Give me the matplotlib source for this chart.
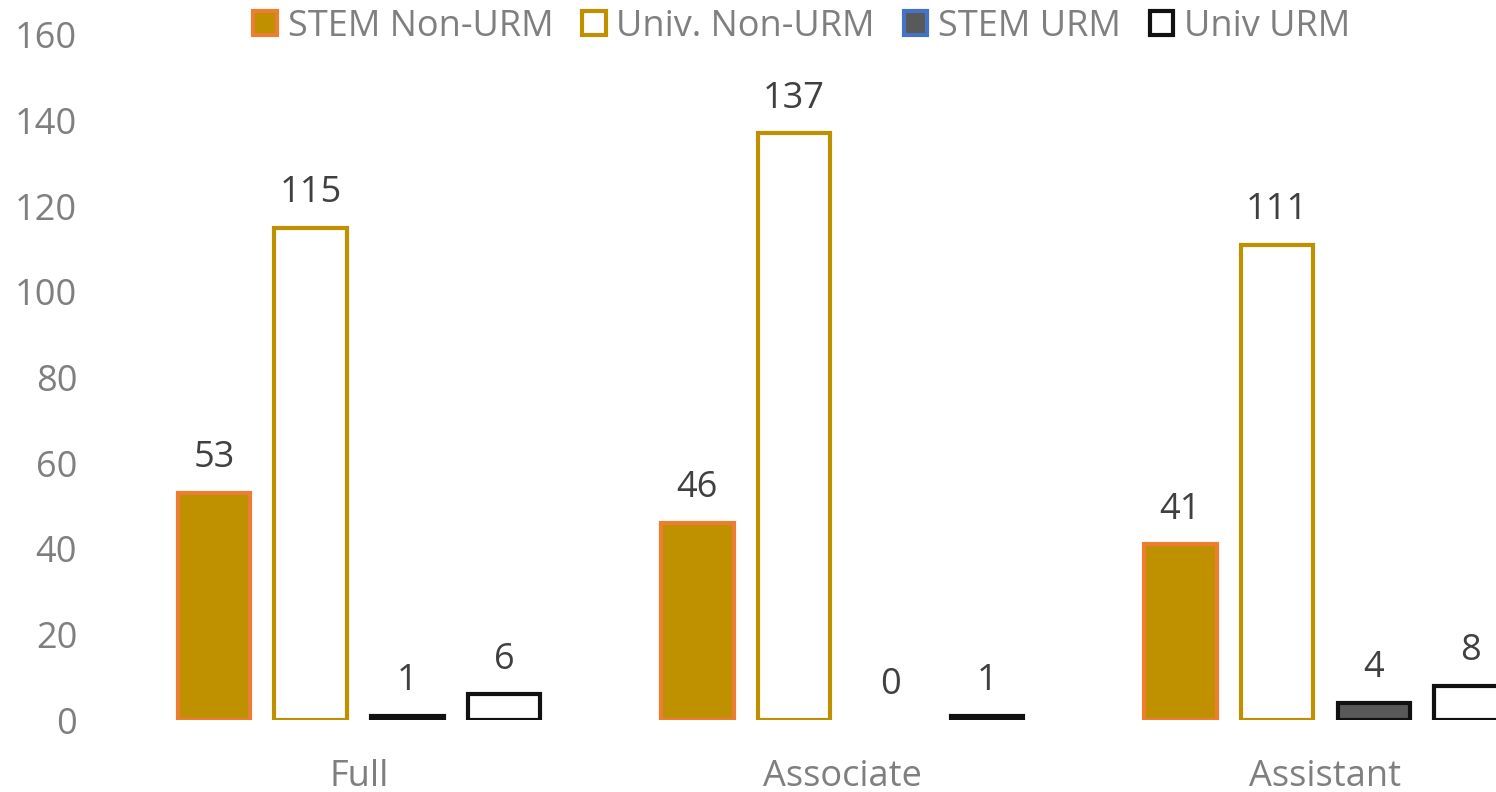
import matplotlib
matplotlib.use("Agg")
import matplotlib.pyplot as plt
from matplotlib.patches import Patch
import numpy as np

plt.rcParams['font.family'] = ['Open Sans', 'DejaVu Sans']

ranks = ["Full", "Associate", "Assistant"]
series = ["STEM Non-URM", "Univ. Non-URM", "STEM URM", "Univ URM"]
stem_non_urm = [53, 46, 41]
univ_non_urm = [115, 137, 111]
stem_urm = [1, 0, 4]
univ_urm = [6, 1, 8]

# bar styles (face, edge) and legend styles
bar_styles = [("#BF9000", "#ED7D31"), ("white", "#BF9000"),
              ("#595959", "#111111"), ("white", "#111111")]
legend_styles = [("#BF9000", "#ED7D31"), ("white", "#BF9000"),
                 ("#595959", "#4472C4"), ("white", "#111111")]

fig = plt.figure(figsize=(14.96, 7.92), dpi=100)
ax = fig.add_axes([0.0785, 0.0909, 0.969, 0.865])

x = np.arange(len(ranks))
width = 0.15
offsets = [-0.3, -0.1, 0.1, 0.3]
values = [stem_non_urm, univ_non_urm, stem_urm, univ_urm]

for vals, off, (fc, ec) in zip(values, offsets, bar_styles):
    bars = ax.bar(x + off, vals, width, facecolor=fc, edgecolor=ec, linewidth=3)
    for b, v in zip(bars, vals):
        if v == 0:
            b.set_linewidth(0)
        ax.annotate(str(v), (b.get_x() + b.get_width() / 2, v),
                    xytext=(0, 12), textcoords="offset points",
                    ha="center", va="bottom", fontsize=26, color="#404040")

ax.set_xlim(-0.5, 2.5)
ax.set_ylim(0, 160)
ax.set_yticks(range(0, 161, 20))
ax.set_xticks(x)
ax.set_xticklabels(ranks)
ax.tick_params(axis="both", length=0, labelsize=26, labelcolor="#7F7F7F")
ax.tick_params(axis="x", pad=28)
ax.tick_params(axis="y", pad=29)
for s in ax.spines.values():
    s.set_visible(False)

handles = [Patch(facecolor=fc, edgecolor=ec, linewidth=3) for fc, ec in legend_styles]
leg = fig.legend(handles, series, loc="center", bbox_to_anchor=(0.536, 0.966),
                 ncol=4, frameon=False, fontsize=26, handlelength=0.65,
                 handleheight=0.65, handletextpad=0.3, columnspacing=0.8,
                 labelcolor="#7F7F7F")

fig.savefig("out.png", dpi=100)
